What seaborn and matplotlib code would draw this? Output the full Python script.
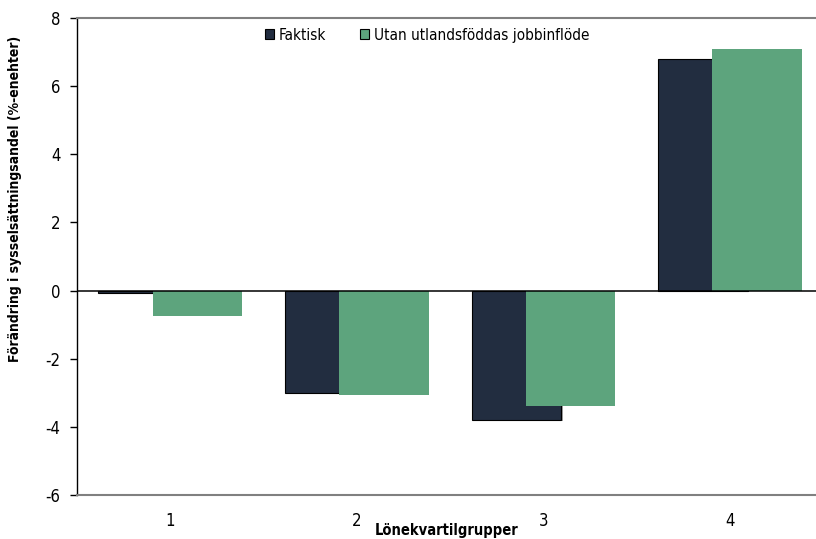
import pandas as pd
import matplotlib.pyplot as plt
import matplotlib.patheffects as pe
import seaborn as sns

# Data
groups = ["1", "2", "3", "4"]
faktisk = [-0.07, -3.0, -3.8, 6.8]
utan_flode = [-0.74, -3.06, -3.38, 7.09]
series_names = ["Faktisk", "Utan utlandsföddas jobbinflöde"]
colors = ["#222d40", "#5da47d"]
y_ticks = [-6, -4, -2, 0, 2, 4, 6, 8]

df = pd.DataFrame({
    "Grupp": groups * 2,
    "Serie": [series_names[0]] * 4 + [series_names[1]] * 4,
    "Värde": faktisk + utan_flode,
})

sns.set_theme(style="white")
plt.rcParams["font.family"] = ["DejaVu Sans"]
plt.rcParams["font.stretch"] = "condensed"
plt.rcParams["text.color"] = "black"
plt.rcParams["axes.labelcolor"] = "black"
plt.rcParams["xtick.color"] = "black"
plt.rcParams["ytick.color"] = "black"

fig = plt.figure(figsize=(8.16, 5.39), dpi=100)
ax = fig.add_axes([77 / 816, 44 / 539, 739 / 816, 477 / 539])

sns.barplot(data=df, x="Grupp", y="Värde", hue="Serie", palette=colors,
            width=0.96, dodge=True, saturation=1, ax=ax, legend=True)

# Excel-style overlapping bars: pull the two series towards each other
n = len(groups)
for i, bar in enumerate(ax.patches[:2 * n]):
    if i < n:
        bar.set_x(bar.get_x() + 0.095)
        bar.set_edgecolor("black")
        bar.set_linewidth(0.8)
        bar.set_path_effects([pe.SimplePatchShadow(offset=(1, -1), shadow_rgbFace="#888888", alpha=0.8), pe.Normal()])
    else:
        bar.set_x(bar.get_x() - 0.095)
        bar.set_linewidth(0)

ax.set_xlim(-0.5, 3.46)
ax.set_ylim(-6, 8)
ax.set_yticks(y_ticks)
ax.set_yticklabels([str(t) for t in y_ticks])
ax.axhline(0, color="black", linewidth=1.1, zorder=3)

for side in ["top", "bottom"]:
    ax.spines[side].set_color("#808080")
    ax.spines[side].set_linewidth(1.5)
ax.spines["left"].set_color("black")
ax.spines["left"].set_linewidth(1.0)
ax.spines["right"].set_visible(False)

ax.tick_params(axis="y", left=True, length=5, width=1, color="black", pad=7, labelsize=12)
ax.tick_params(axis="x", bottom=False, length=0, pad=12, labelsize=12)

ax.set_xlabel("Lönekvartilgrupper", fontsize=10.5, fontweight="bold")
ax.set_ylabel("Förändring i sysselsättningsandel (%-enehter)", fontsize=10, fontweight="bold")
ax.xaxis.set_label_coords(0.5, -0.058)
ax.yaxis.set_label_coords(-0.074, 0.62)

handles, labels = ax.get_legend_handles_labels()
ax.legend(handles, labels, loc="center", bbox_to_anchor=(0.474, 0.964), ncol=2,
          frameon=False, handlelength=0.6, handleheight=0.6, handletextpad=0.3,
          columnspacing=2.2, fontsize=11, borderaxespad=0)
for h in ax.get_legend().legend_handles:
    h.set_edgecolor("black")
    h.set_linewidth(0.8)

fig.savefig("out.png", dpi=100)
